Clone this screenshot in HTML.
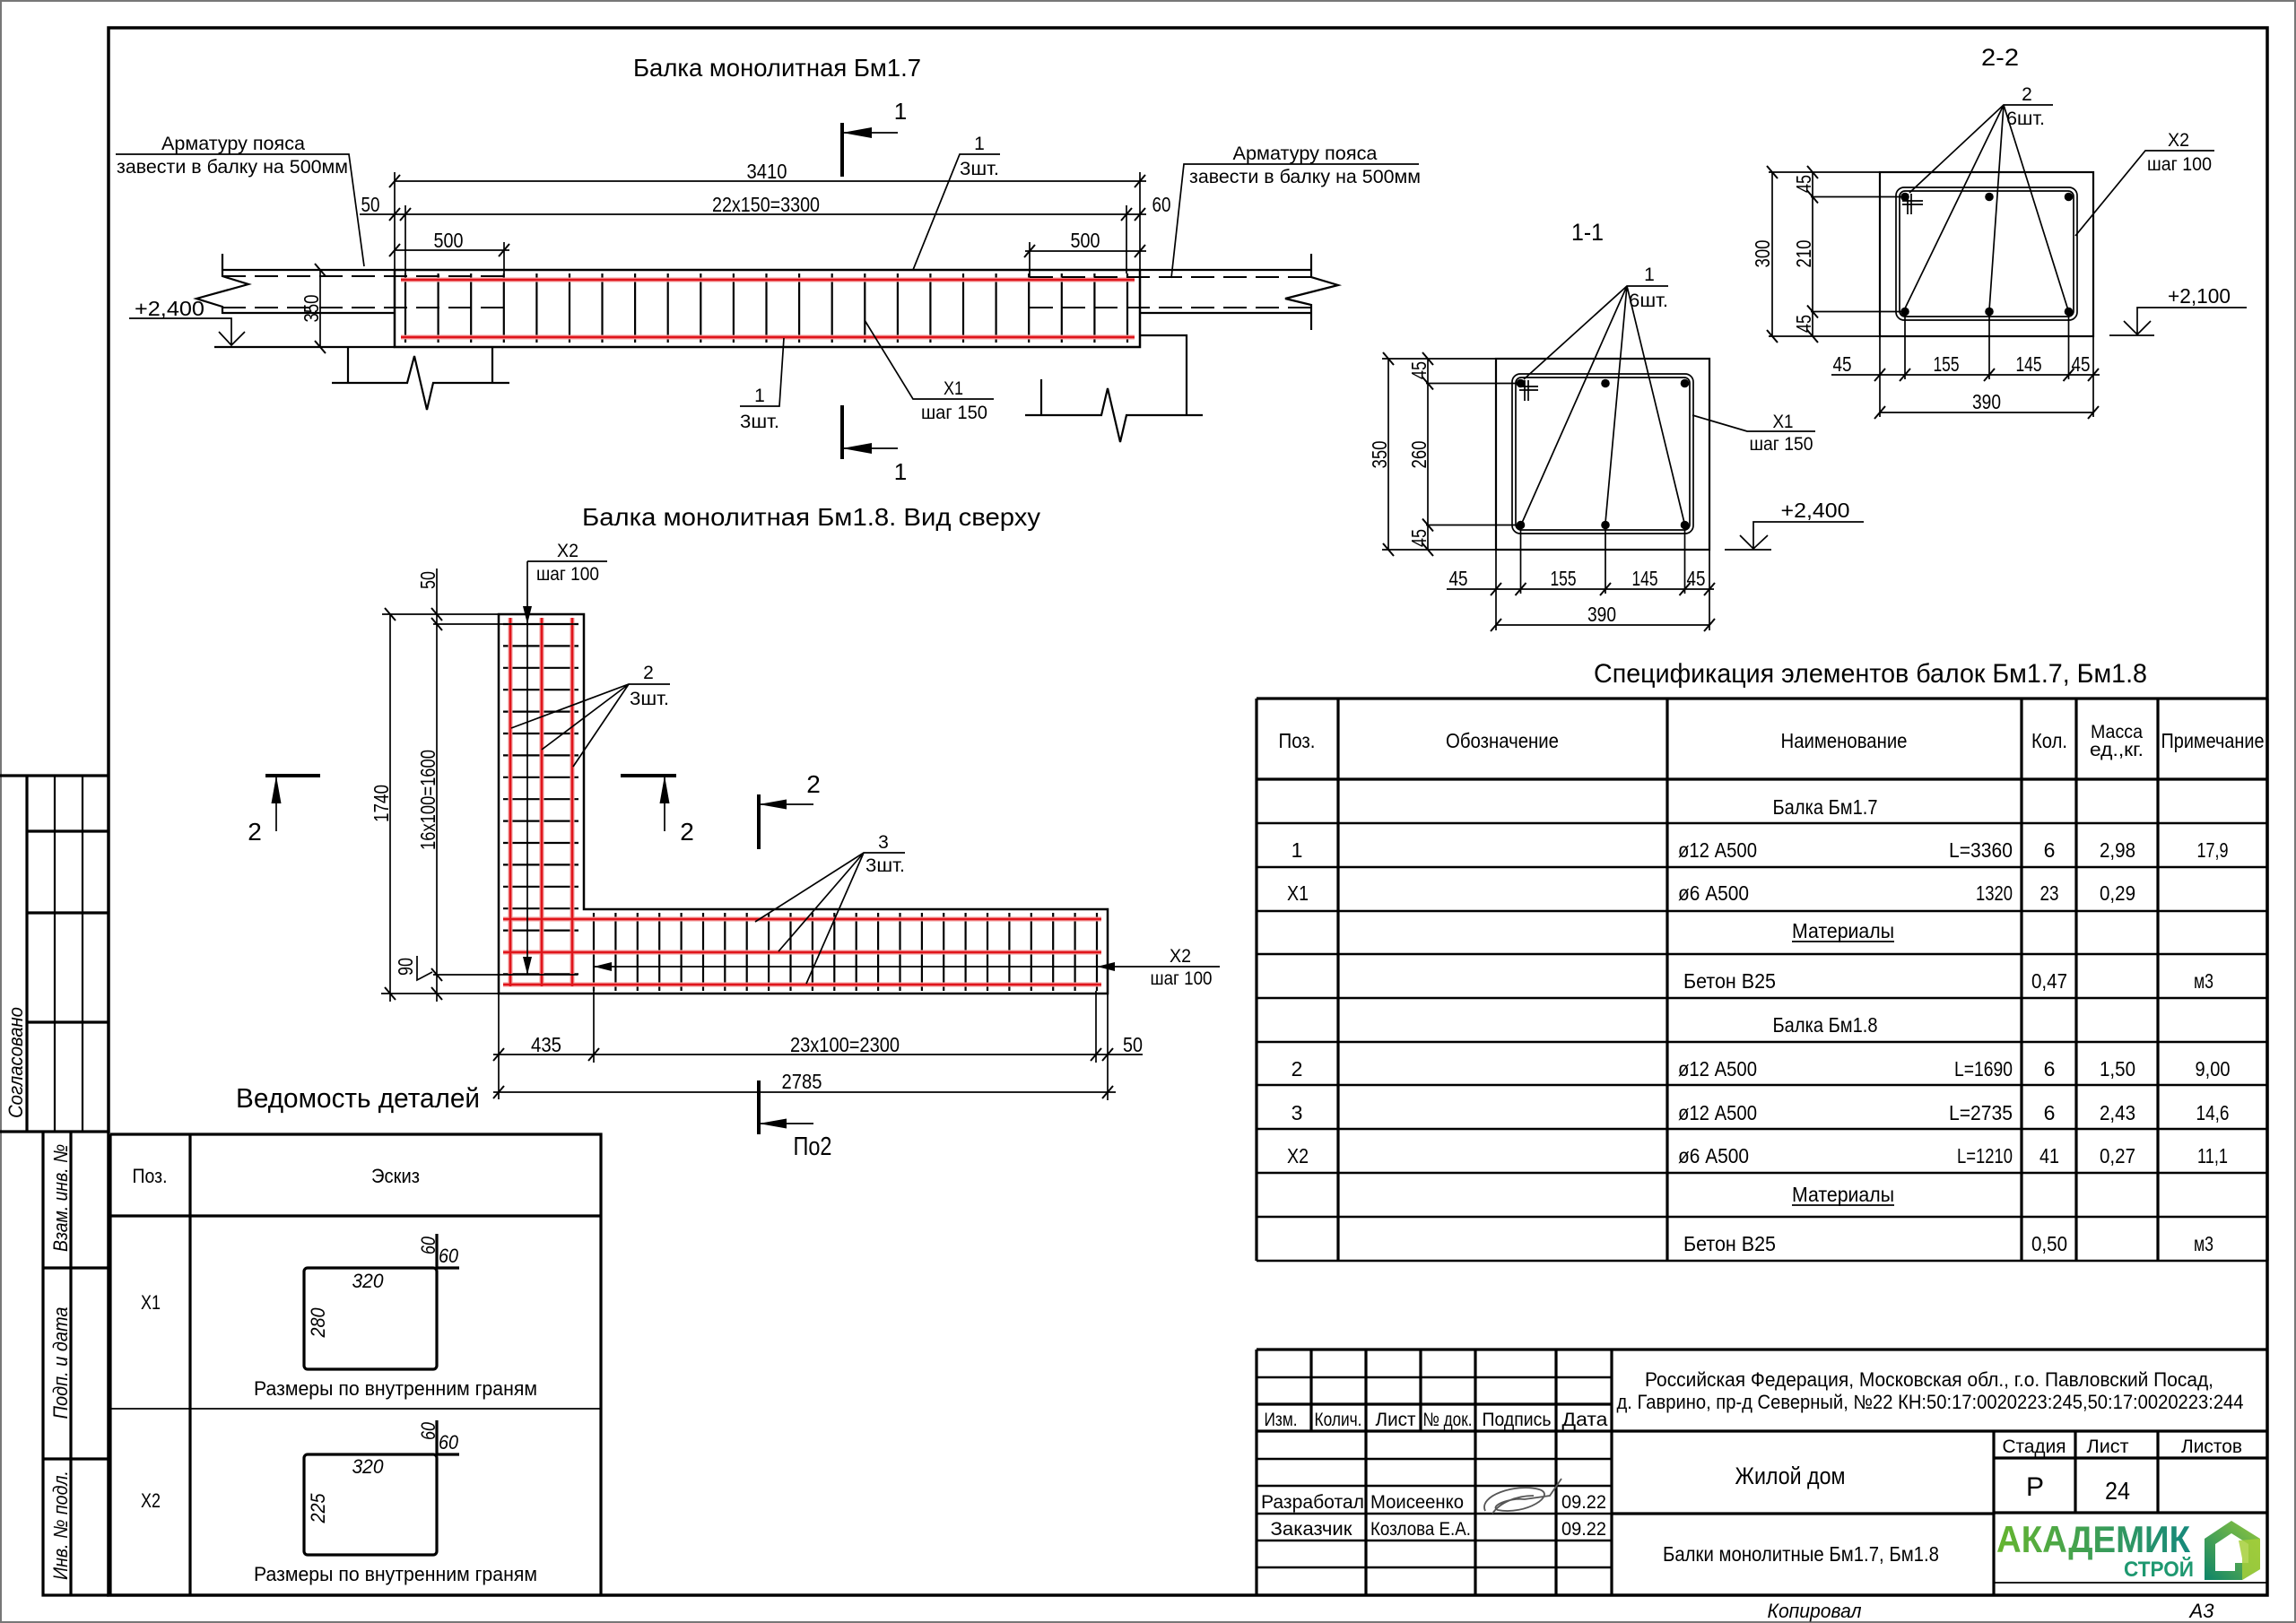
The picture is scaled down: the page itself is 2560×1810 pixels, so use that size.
<!DOCTYPE html>
<html><head><meta charset="utf-8"><style>
html,body{margin:0;padding:0;background:#fff}
svg{display:block}
text{font-family:"Liberation Sans","DejaVu Sans",sans-serif;fill:#000}
.l{stroke:#000;stroke-width:2.2;fill:none}
.d{stroke:#000;stroke-width:1.7;fill:none}
.k{stroke:#000;stroke-width:3.2;fill:none}
.m{stroke:#000;stroke-width:2.4;fill:none}
.r{stroke:#e0151b;stroke-width:2.6;fill:none}
.rh{stroke:#f29a9a;stroke-width:5;fill:none}
.ds{stroke:#000;stroke-width:2;fill:none;stroke-dasharray:26 10}
.i{font-style:italic}
.f{fill:#000;stroke:none}
</style></head><body>
<svg width="2560" height="1810" viewBox="0 0 2560 1810" xmlns="http://www.w3.org/2000/svg">
<defs>
<path id="th" d="M-6,7L6,-7" stroke="#000" stroke-width="2"/>
<path id="tv" d="M-6,-7L6,7" stroke="#000" stroke-width="2"/>
<linearGradient id="lg" x1="0" x2="1" y1="0" y2="0"><stop offset="0" stop-color="#66b52e"/><stop offset="1" stop-color="#15887c"/></linearGradient>
<linearGradient id="hg" x1="0" y1="1" x2="1" y2="0"><stop offset="0" stop-color="#0d8468"/><stop offset="1" stop-color="#94c83c"/></linearGradient>
</defs>

<!-- outer border and frame -->
<rect x="1" y="1" width="2558" height="1808" fill="none" stroke="#777" stroke-width="2"/>
<path d="M121,31H2528V1779H121Z" fill="none" stroke="#000" stroke-width="3.5"/>

<!-- left stamps -->
<path class="k" d="M0,865H121M0,1262H121M30,865V1262M30,927H121M30,1018H121M30,1140H121"/>
<path class="l" d="M61,865V1262M92,865V1262"/>
<path class="k" d="M48,1262V1779H121M79,1262V1779M48,1414H121M48,1627H121"/>
<text class="i" transform="translate(25,1185) rotate(-90)" text-anchor="middle" font-size="22" textLength="124" lengthAdjust="spacingAndGlyphs">Согласовано</text>
<text class="i" transform="translate(75,1336) rotate(-90)" text-anchor="middle" font-size="22" textLength="120" lengthAdjust="spacingAndGlyphs">Взам. инв. №</text>
<text class="i" transform="translate(75,1520) rotate(-90)" text-anchor="middle" font-size="22" textLength="125" lengthAdjust="spacingAndGlyphs">Подп. и дата</text>
<text class="i" transform="translate(75,1701) rotate(-90)" text-anchor="middle" font-size="22" textLength="122" lengthAdjust="spacingAndGlyphs">Инв. № подл.</text>

<!-- ============ Beam Bm1.7 ============ -->
<text x="706" y="85" font-size="28" textLength="321" lengthAdjust="spacingAndGlyphs">Балка монолитная Бм1.7</text>

<path class="d" d="M129,172H389L406,297"/>
<text x="260" y="167" text-anchor="middle" font-size="21" textLength="160" lengthAdjust="spacingAndGlyphs">Арматуру пояса</text>
<text x="259" y="193" text-anchor="middle" font-size="21" textLength="258" lengthAdjust="spacingAndGlyphs">завести в балку на 500мм</text>
<path class="d" d="M1582,183H1320L1306,310"/>
<text x="1455" y="178" text-anchor="middle" font-size="21" textLength="161" lengthAdjust="spacingAndGlyphs">Арматуру пояса</text>
<text x="1455" y="204" text-anchor="middle" font-size="21" textLength="258" lengthAdjust="spacingAndGlyphs">завести в балку на 500мм</text>

<!-- dims -->
<path class="d" d="M440,202H1278M401,239H1278M440,279H568M1143,280H1278"/>
<path class="d" d="M440,192V301M1271,192V301M452,229V305M1256,229V305M562,270V305M1148,270V309"/>
<use href="#th" x="440" y="202"/><use href="#th" x="1271" y="202"/>
<use href="#th" x="440" y="239"/><use href="#th" x="452" y="239"/><use href="#th" x="1256" y="239"/><use href="#th" x="1271" y="239"/>
<use href="#th" x="440" y="279"/><use href="#th" x="562" y="279"/><use href="#th" x="1148" y="280"/><use href="#th" x="1271" y="280"/>
<text x="855" y="199" text-anchor="middle" font-size="23" textLength="45" lengthAdjust="spacingAndGlyphs">3410</text>
<text x="854" y="236" text-anchor="middle" font-size="23" textLength="120" lengthAdjust="spacingAndGlyphs">22x150=3300</text>
<text x="413" y="236" text-anchor="middle" font-size="23" textLength="21" lengthAdjust="spacingAndGlyphs">50</text>
<text x="1295" y="236" text-anchor="middle" font-size="23" textLength="21" lengthAdjust="spacingAndGlyphs">60</text>
<text x="500" y="276" text-anchor="middle" font-size="23" textLength="33" lengthAdjust="spacingAndGlyphs">500</text>
<text x="1210" y="276" text-anchor="middle" font-size="23" textLength="33" lengthAdjust="spacingAndGlyphs">500</text>

<!-- beam body -->
<rect x="440" y="301" width="831" height="86" fill="none" stroke="#000" stroke-width="2.5"/>
<path class="l" d="M452,305V382M488.6,305V382M525.2,305V382M561.8,305V382M598.4,305V382M635,305V382M671.5,305V382M708.1,305V382M744.7,305V382M781.3,305V382M817.9,305V382M854.5,305V382M891.1,305V382M927.7,305V382M964.3,305V382M1000.9,305V382M1037.4,305V382M1074,305V382M1110.6,305V382M1147.2,305V382M1183.8,305V382M1220.4,305V382M1257,305V382"/>
<path class="rh" d="M447,312H1265M447,376H1265"/>
<path class="r" d="M447,312H1265M447,376H1265"/>

<!-- belts -->
<path class="l" d="M248,301H440M248,349H440M239,387H440"/>
<path class="ds" d="M248,308H562M248,343H562"/>
<path class="l" d="M248,283V308L277,317L219,333L248,342V350"/>
<path class="l" d="M1271,301H1462M1271,349H1462"/>
<path class="ds" d="M1148,309H1462M1148,343H1462"/>
<path class="l" d="M1462,283V309L1492,318L1433,333L1462,340V368"/>

<!-- level -->
<path class="d" d="M144,355H258V385M244,370L258,385L273,370"/>
<text x="189" y="352" text-anchor="middle" font-size="23" textLength="78" lengthAdjust="spacingAndGlyphs">+2,400</text>
<path class="d" d="M357,301V387"/>
<use href="#tv" x="357" y="301"/><use href="#tv" x="357" y="387"/>
<text transform="translate(355,344) rotate(-90)" text-anchor="middle" font-size="23" textLength="31" lengthAdjust="spacingAndGlyphs">350</text>

<!-- supports -->
<path class="l" d="M370,427H454L462,397L476,457L483,427H568M388,387V427M549,387V427"/>
<path class="l" d="M1271,374H1323V463M1143,463H1228L1235,433L1249,493L1256,463H1341M1161,423V463"/>

<!-- leaders -->
<path class="d" d="M874,377L869,453H825"/>
<text x="847" y="448" text-anchor="middle" font-size="21">1</text>
<text x="847" y="477" text-anchor="middle" font-size="21" textLength="44" lengthAdjust="spacingAndGlyphs">3шт.</text>
<path class="d" d="M1018,301L1070,172H1115"/>
<text x="1092" y="167" text-anchor="middle" font-size="21">1</text>
<text x="1092" y="195" text-anchor="middle" font-size="21" textLength="44" lengthAdjust="spacingAndGlyphs">3шт.</text>
<path class="d" d="M964,357L1018,445H1108"/>
<text x="1063" y="440" text-anchor="middle" font-size="21" textLength="22" lengthAdjust="spacingAndGlyphs">X1</text>
<text x="1064" y="467" text-anchor="middle" font-size="21" textLength="74" lengthAdjust="spacingAndGlyphs">шаг 150</text>

<!-- section marks 1 -->
<path d="M939,137V197M939,452V512" stroke="#000" stroke-width="4"/>
<path class="d" d="M939,148H1001M939,500H1001"/>
<polygon class="f" points="939,148 972,142 972,154"/>
<polygon class="f" points="939,500 972,494 972,506"/>
<text x="1004" y="133" text-anchor="middle" font-size="26">1</text>
<text x="1004" y="535" text-anchor="middle" font-size="26">1</text>

<!-- ============ Section 1-1 ============ -->
<text x="1770" y="268" text-anchor="middle" font-size="27" textLength="36" lengthAdjust="spacingAndGlyphs">1-1</text>
<path class="d" d="M1860,319H1814L1699,423M1814,319L1697,583M1814,319L1790,583M1814,319L1878,583"/>
<text x="1839" y="313" text-anchor="middle" font-size="21">1</text>
<text x="1816" y="342" font-size="21" textLength="44" lengthAdjust="spacingAndGlyphs">6шт.</text>
<rect x="1668" y="400" width="238" height="213" class="l"/>
<rect x="1686" y="417" width="202" height="178" rx="9" class="d"/>
<rect x="1690" y="421" width="194" height="170" rx="6" class="d"/>
<g class="f"><circle cx="1695.5" cy="427.5" r="4.8"/><circle cx="1790" cy="427.5" r="4.8"/><circle cx="1878.5" cy="427.5" r="4.8"/><circle cx="1695.5" cy="585.5" r="4.8"/><circle cx="1790" cy="585.5" r="4.8"/><circle cx="1878.5" cy="585.5" r="4.8"/></g>
<path class="d" d="M1700,424V447M1704,424V447M1694,431H1715M1694,435H1715"/>
<path class="d" d="M1541,400H1668M1541,613H1668M1548,400V613M1592,400V613M1590,427.5H1695M1590,585.5H1695"/>
<use href="#tv" x="1548" y="400"/><use href="#tv" x="1548" y="613"/><use href="#tv" x="1592" y="400"/><use href="#tv" x="1592" y="427.5"/><use href="#tv" x="1592" y="585.5"/><use href="#tv" x="1592" y="613"/>
<text transform="translate(1546,507) rotate(-90)" text-anchor="middle" font-size="23" textLength="31" lengthAdjust="spacingAndGlyphs">350</text>
<text transform="translate(1590,507) rotate(-90)" text-anchor="middle" font-size="23" textLength="31" lengthAdjust="spacingAndGlyphs">260</text>
<text transform="translate(1590,413) rotate(-90)" text-anchor="middle" font-size="23" textLength="20" lengthAdjust="spacingAndGlyphs">45</text>
<text transform="translate(1590,600) rotate(-90)" text-anchor="middle" font-size="23" textLength="20" lengthAdjust="spacingAndGlyphs">45</text>
<path class="d" d="M1613,657H1911M1668,697H1906M1695.5,585V662M1790,585V662M1878.5,585V662M1668,613V703M1906,613V703"/>
<use href="#th" x="1668" y="657"/><use href="#th" x="1695.5" y="657"/><use href="#th" x="1790" y="657"/><use href="#th" x="1878.5" y="657"/><use href="#th" x="1906" y="657"/><use href="#th" x="1668" y="697"/><use href="#th" x="1906" y="697"/>
<text x="1626" y="653" text-anchor="middle" font-size="23" textLength="21" lengthAdjust="spacingAndGlyphs">45</text>
<text x="1743" y="653" text-anchor="middle" font-size="23" textLength="29" lengthAdjust="spacingAndGlyphs">155</text>
<text x="1834" y="653" text-anchor="middle" font-size="23" textLength="29" lengthAdjust="spacingAndGlyphs">145</text>
<text x="1891" y="653" text-anchor="middle" font-size="23" textLength="21" lengthAdjust="spacingAndGlyphs">45</text>
<text x="1786" y="693" text-anchor="middle" font-size="23" textLength="32" lengthAdjust="spacingAndGlyphs">390</text>
<path class="d" d="M1887,463L1948,481H2024"/>
<text x="1988" y="477" text-anchor="middle" font-size="21" textLength="23" lengthAdjust="spacingAndGlyphs">X1</text>
<text x="1986" y="502" text-anchor="middle" font-size="21" textLength="71" lengthAdjust="spacingAndGlyphs">шаг 150</text>
<path class="d" d="M2078,582H1955V612M1940,597L1955,612L1971,597M1923,613H1975"/>
<text x="2024" y="577" text-anchor="middle" font-size="23" textLength="77" lengthAdjust="spacingAndGlyphs">+2,400</text>

<!-- ============ Section 2-2 ============ -->
<text x="2230" y="73" text-anchor="middle" font-size="27" textLength="42" lengthAdjust="spacingAndGlyphs">2-2</text>
<path class="d" d="M2289,117H2234L2129,215M2234,117L2123,346M2234,117L2218,346M2234,117L2306,346"/>
<text x="2260" y="112" text-anchor="middle" font-size="21">2</text>
<text x="2237" y="139" font-size="21" textLength="43" lengthAdjust="spacingAndGlyphs">6шт.</text>
<rect x="2096" y="192" width="238" height="183" class="l"/>
<rect x="2114" y="209" width="202" height="148" rx="9" class="d"/>
<rect x="2118" y="213" width="194" height="140" rx="6" class="d"/>
<g class="f"><circle cx="2124" cy="219.5" r="4.8"/><circle cx="2218" cy="219.5" r="4.8"/><circle cx="2306.5" cy="219.5" r="4.8"/><circle cx="2124" cy="347.5" r="4.8"/><circle cx="2218" cy="347.5" r="4.8"/><circle cx="2306.5" cy="347.5" r="4.8"/></g>
<path class="d" d="M2127,216V239M2131,216V239M2121,224H2144M2121,228H2144"/>
<path class="d" d="M1972,192H2096M1972,375H2096M1976,192V375M2021,192V375M2019,219.5H2124M2019,347.5H2124"/>
<use href="#tv" x="1976" y="192"/><use href="#tv" x="1976" y="375"/><use href="#tv" x="2021" y="192"/><use href="#tv" x="2021" y="219.5"/><use href="#tv" x="2021" y="347.5"/><use href="#tv" x="2021" y="375"/>
<text transform="translate(1973,283) rotate(-90)" text-anchor="middle" font-size="23" textLength="31" lengthAdjust="spacingAndGlyphs">300</text>
<text transform="translate(2019,283) rotate(-90)" text-anchor="middle" font-size="23" textLength="31" lengthAdjust="spacingAndGlyphs">210</text>
<text transform="translate(2019,205) rotate(-90)" text-anchor="middle" font-size="23" textLength="20" lengthAdjust="spacingAndGlyphs">45</text>
<text transform="translate(2019,361) rotate(-90)" text-anchor="middle" font-size="23" textLength="20" lengthAdjust="spacingAndGlyphs">45</text>
<path class="d" d="M2042,418H2341M2096,460H2334M2124,347V423M2218,347V423M2306.5,347V423M2096,375V465M2334,375V465"/>
<use href="#th" x="2096" y="418"/><use href="#th" x="2124" y="418"/><use href="#th" x="2218" y="418"/><use href="#th" x="2306.5" y="418"/><use href="#th" x="2334" y="418"/><use href="#th" x="2096" y="460"/><use href="#th" x="2334" y="460"/>
<text x="2054" y="414" text-anchor="middle" font-size="23" textLength="21" lengthAdjust="spacingAndGlyphs">45</text>
<text x="2170" y="414" text-anchor="middle" font-size="23" textLength="29" lengthAdjust="spacingAndGlyphs">155</text>
<text x="2262" y="414" text-anchor="middle" font-size="23" textLength="29" lengthAdjust="spacingAndGlyphs">145</text>
<text x="2320" y="414" text-anchor="middle" font-size="23" textLength="21" lengthAdjust="spacingAndGlyphs">45</text>
<text x="2215" y="456" text-anchor="middle" font-size="23" textLength="32" lengthAdjust="spacingAndGlyphs">390</text>
<path class="d" d="M2314,263L2392,168H2469"/>
<text x="2429" y="163" text-anchor="middle" font-size="21" textLength="24" lengthAdjust="spacingAndGlyphs">X2</text>
<text x="2430" y="190" text-anchor="middle" font-size="21" textLength="72" lengthAdjust="spacingAndGlyphs">шаг 100</text>
<path class="d" d="M2505,343H2383V373M2368,358L2383,373L2398,358M2352,374H2402"/>
<text x="2452" y="338" text-anchor="middle" font-size="23" textLength="70" lengthAdjust="spacingAndGlyphs">+2,100</text>

<!-- ============ Plan Bm1.8 ============ -->
<text x="649" y="586" font-size="28" textLength="511" lengthAdjust="spacingAndGlyphs">Балка монолитная Бм1.8. Вид сверху</text>
<path class="d" d="M426,685H556"/>
<path class="l" d="M561,696H645M561,720.4H645M561,744.8H645M561,769.2H645M561,793.6H645M561,818H645M561,842.4H645M561,866.8H645M561,891.2H645M561,915.6H645M561,940H645M561,964.4H645M561,988.8H645M561,1013.2H645M561,1037.6H645M561,1062H645M561,1086.4H645"/>
<path class="l" d="M662,1018V1105M686.4,1018V1105M710.8,1018V1105M735.2,1018V1105M759.6,1018V1105M784,1018V1105M808.3,1018V1105M832.7,1018V1105M857.1,1018V1105M881.5,1018V1105M905.9,1018V1105M930.3,1018V1105M954.7,1018V1105M979.1,1018V1105M1003.5,1018V1105M1027.9,1018V1105M1052.2,1018V1105M1076.6,1018V1105M1101,1018V1105M1125.4,1018V1105M1149.8,1018V1105M1174.2,1018V1105M1198.6,1018V1105M1223,1018V1105"/>
<path class="rh" d="M569,689V1100M604,689V1100M638,689V1100M561,1025H1228M561,1062H1228M561,1098H1228"/>
<path class="r" d="M569,689V1100M604,689V1100M638,689V1100M561,1025H1228M561,1062H1228M561,1098H1228"/>
<path d="M556,685H651V1014H1235V1108H556Z" fill="none" stroke="#000" stroke-width="2.5"/>

<!-- X2 arrows -->
<path class="d" d="M588,626H677M588,626V1087M662,1078H1360"/>
<polygon class="f" points="588,696 583,676 593,676"/>
<polygon class="f" points="588,1087 583,1067 593,1067"/>
<polygon class="f" points="662,1078 682,1073 682,1083"/>
<polygon class="f" points="1223,1078 1243,1073 1243,1083"/>
<text x="633" y="621" text-anchor="middle" font-size="21" textLength="24" lengthAdjust="spacingAndGlyphs">X2</text>
<text x="633" y="647" text-anchor="middle" font-size="21" textLength="70" lengthAdjust="spacingAndGlyphs">шаг 100</text>
<text x="1316" y="1073" text-anchor="middle" font-size="21" textLength="24" lengthAdjust="spacingAndGlyphs">X2</text>
<text x="1317" y="1098" text-anchor="middle" font-size="21" textLength="69" lengthAdjust="spacingAndGlyphs">шаг 100</text>

<!-- leaders plan -->
<path class="d" d="M747,763H701L570,812M701,763L604,836M701,763L639,855"/>
<text x="723" y="757" text-anchor="middle" font-size="21">2</text>
<text x="702" y="786" font-size="21" textLength="44" lengthAdjust="spacingAndGlyphs">3шт.</text>
<path class="d" d="M1009,951H963L842,1028M963,951L868,1061M963,951L899,1097"/>
<text x="985" y="946" text-anchor="middle" font-size="21">3</text>
<text x="965" y="972" font-size="21" textLength="44" lengthAdjust="spacingAndGlyphs">3шт.</text>

<!-- plan dims left -->
<path class="d" d="M435,685V1117M487,634V1117M483,696H644M483,1087H644M425,1108H556"/>
<use href="#tv" x="435" y="685"/><use href="#tv" x="435" y="1108"/><use href="#tv" x="487" y="685"/><use href="#tv" x="487" y="696"/><use href="#tv" x="487" y="1087"/><use href="#tv" x="487" y="1108"/>
<text transform="translate(433,896) rotate(-90)" text-anchor="middle" font-size="23" textLength="42" lengthAdjust="spacingAndGlyphs">1740</text>
<text transform="translate(485,892) rotate(-90)" text-anchor="middle" font-size="23" textLength="112" lengthAdjust="spacingAndGlyphs">16x100=1600</text>
<text transform="translate(485,647) rotate(-90)" text-anchor="middle" font-size="23" textLength="20" lengthAdjust="spacingAndGlyphs">50</text>
<text transform="translate(460,1078) rotate(-90)" text-anchor="middle" font-size="23" textLength="20" lengthAdjust="spacingAndGlyphs">90</text>
<path class="d" d="M465,1066V1093L482,1084"/>

<!-- plan dims bottom -->
<path class="d" d="M550,1176H1274M550,1218H1244M556,1108V1226M662,1105V1185M1222,1105V1185M1235,1108V1227"/>
<use href="#th" x="556" y="1176"/><use href="#th" x="662" y="1176"/><use href="#th" x="1222" y="1176"/><use href="#th" x="1235" y="1176"/><use href="#th" x="556" y="1218"/><use href="#th" x="1235" y="1218"/>
<text x="609" y="1173" text-anchor="middle" font-size="23" textLength="34" lengthAdjust="spacingAndGlyphs">435</text>
<text x="942" y="1173" text-anchor="middle" font-size="23" textLength="122" lengthAdjust="spacingAndGlyphs">23x100=2300</text>
<text x="1263" y="1173" text-anchor="middle" font-size="23" textLength="22" lengthAdjust="spacingAndGlyphs">50</text>
<text x="894" y="1214" text-anchor="middle" font-size="23" textLength="45" lengthAdjust="spacingAndGlyphs">2785</text>

<!-- section marks 2 -->
<path d="M296,865H357M692,865H754M846,886V947M846,1205V1265" stroke="#000" stroke-width="4"/>
<path class="d" d="M308,865V927M741,865V927M846,897H907M846,1253H907"/>
<polygon class="f" points="308,865 302.5,896 313.5,896"/>
<polygon class="f" points="741,865 735.5,896 746.5,896"/>
<polygon class="f" points="846,897 877,891.5 877,902.5"/>
<polygon class="f" points="846,1253 877,1247.5 877,1258.5"/>
<text x="284" y="937" text-anchor="middle" font-size="28">2</text>
<text x="766" y="937" text-anchor="middle" font-size="28">2</text>
<text x="907" y="884" text-anchor="middle" font-size="28">2</text>
<text x="906" y="1288" text-anchor="middle" font-size="29" textLength="43" lengthAdjust="spacingAndGlyphs">По2</text>

<!-- ============ Details table ============ -->
<text x="263" y="1235" font-size="31" textLength="272" lengthAdjust="spacingAndGlyphs">Ведомость деталей</text>
<path class="k" d="M123,1265H670V1779M123,1265V1779M212,1265V1779M123,1356H670"/>
<path class="d" d="M123,1571H670"/>
<text x="167" y="1319" text-anchor="middle" font-size="22" textLength="39" lengthAdjust="spacingAndGlyphs">Поз.</text>
<text x="441" y="1319" text-anchor="middle" font-size="22" textLength="54" lengthAdjust="spacingAndGlyphs">Эскиз</text>
<text x="168" y="1460" text-anchor="middle" font-size="22" textLength="22" lengthAdjust="spacingAndGlyphs">X1</text>
<text x="168" y="1681" text-anchor="middle" font-size="22" textLength="22" lengthAdjust="spacingAndGlyphs">X2</text>
<rect x="339" y="1414" width="148" height="113" rx="4" fill="none" stroke="#000" stroke-width="3.2"/>
<path class="k" d="M487,1414H512M487,1414V1376"/>
<text class="i" transform="translate(485,1389) rotate(-90)" text-anchor="middle" font-size="22" textLength="20" lengthAdjust="spacingAndGlyphs">60</text>
<text class="i" x="500" y="1408" text-anchor="middle" font-size="22" textLength="22" lengthAdjust="spacingAndGlyphs">60</text>
<text class="i" x="410" y="1436" text-anchor="middle" font-size="22" textLength="35" lengthAdjust="spacingAndGlyphs">320</text>
<text class="i" transform="translate(362,1475) rotate(-90)" text-anchor="middle" font-size="22" textLength="33" lengthAdjust="spacingAndGlyphs">280</text>
<text x="441" y="1556" text-anchor="middle" font-size="22" textLength="316" lengthAdjust="spacingAndGlyphs">Размеры по внутренним граням</text>
<rect x="339" y="1622" width="148" height="112" rx="4" fill="none" stroke="#000" stroke-width="3.2"/>
<path class="k" d="M487,1622H512M487,1622V1584"/>
<text class="i" transform="translate(485,1596) rotate(-90)" text-anchor="middle" font-size="22" textLength="20" lengthAdjust="spacingAndGlyphs">60</text>
<text class="i" x="500" y="1616" text-anchor="middle" font-size="22" textLength="22" lengthAdjust="spacingAndGlyphs">60</text>
<text class="i" x="410" y="1643" text-anchor="middle" font-size="22" textLength="35" lengthAdjust="spacingAndGlyphs">320</text>
<text class="i" transform="translate(362,1682) rotate(-90)" text-anchor="middle" font-size="22" textLength="33" lengthAdjust="spacingAndGlyphs">225</text>
<text x="441" y="1763" text-anchor="middle" font-size="22" textLength="316" lengthAdjust="spacingAndGlyphs">Размеры по внутренним граням</text>

<!-- ============ Spec table ============ -->
<text x="1777" y="761" font-size="30" textLength="617" lengthAdjust="spacingAndGlyphs">Спецификация элементов балок Бм1.7, Бм1.8</text>
<path class="k" d="M1401,779H2528M1401,869H2528M1401,779V1406M1492,779V1406M1859,779V1406M2254,779V1406M2315,779V1406M2406,779V1406M2528,779V1406"/>
<path class="m" d="M1401,918H2528M1401,967H2528M1401,1016H2528M1401,1064H2528M1401,1113H2528M1401,1162H2528M1401,1210H2528M1401,1259H2528M1401,1308H2528M1401,1357H2528M1401,1406H2528"/>
<g font-size="23">
<text x="1446" y="834" text-anchor="middle" textLength="41" lengthAdjust="spacingAndGlyphs">Поз.</text>
<text x="1675" y="834" text-anchor="middle" textLength="126" lengthAdjust="spacingAndGlyphs">Обозначение</text>
<text x="2056" y="834" text-anchor="middle" textLength="141" lengthAdjust="spacingAndGlyphs">Наименование</text>
<text x="2285" y="834" text-anchor="middle" textLength="40" lengthAdjust="spacingAndGlyphs">Кол.</text>
<text x="2360" y="823" text-anchor="middle" font-size="21" textLength="58" lengthAdjust="spacingAndGlyphs">Масса</text>
<text x="2360" y="843" text-anchor="middle" font-size="21" textLength="60" lengthAdjust="spacingAndGlyphs">ед.,кг.</text>
<text x="2467" y="834" text-anchor="middle" textLength="115" lengthAdjust="spacingAndGlyphs">Примечание</text>

<text x="2035" y="908" text-anchor="middle" textLength="117" lengthAdjust="spacingAndGlyphs">Балка Бм1.7</text>

<text x="1446" y="956" text-anchor="middle">1</text>
<text x="1871" y="956" textLength="88" lengthAdjust="spacingAndGlyphs">ø12 А500</text>
<text x="2244" y="956" text-anchor="end" textLength="71" lengthAdjust="spacingAndGlyphs">L=3360</text>
<text x="2285" y="956" text-anchor="middle">6</text>
<text x="2361" y="956" text-anchor="middle" textLength="40" lengthAdjust="spacingAndGlyphs">2,98</text>
<text x="2467" y="956" text-anchor="middle" textLength="35" lengthAdjust="spacingAndGlyphs">17,9</text>

<text x="1447" y="1004" text-anchor="middle" textLength="24" lengthAdjust="spacingAndGlyphs">X1</text>
<text x="1871" y="1004" textLength="79" lengthAdjust="spacingAndGlyphs">ø6 А500</text>
<text x="2244" y="1004" text-anchor="end" textLength="41" lengthAdjust="spacingAndGlyphs">1320</text>
<text x="2285" y="1004" text-anchor="middle" textLength="21" lengthAdjust="spacingAndGlyphs">23</text>
<text x="2361" y="1004" text-anchor="middle" textLength="40" lengthAdjust="spacingAndGlyphs">0,29</text>

<text x="2055" y="1046" text-anchor="middle" textLength="114" lengthAdjust="spacingAndGlyphs">Материалы</text>

<text x="1877" y="1102" textLength="103" lengthAdjust="spacingAndGlyphs">Бетон В25</text>
<text x="2285" y="1102" text-anchor="middle" textLength="40" lengthAdjust="spacingAndGlyphs">0,47</text>
<text x="2457" y="1102" text-anchor="middle" textLength="22" lengthAdjust="spacingAndGlyphs">м3</text>

<text x="2035" y="1151" text-anchor="middle" textLength="117" lengthAdjust="spacingAndGlyphs">Балка Бм1.8</text>

<text x="1446" y="1200" text-anchor="middle">2</text>
<text x="1871" y="1200" textLength="88" lengthAdjust="spacingAndGlyphs">ø12 А500</text>
<text x="2244" y="1200" text-anchor="end" textLength="65" lengthAdjust="spacingAndGlyphs">L=1690</text>
<text x="2285" y="1200" text-anchor="middle">6</text>
<text x="2361" y="1200" text-anchor="middle" textLength="40" lengthAdjust="spacingAndGlyphs">1,50</text>
<text x="2467" y="1200" text-anchor="middle" textLength="39" lengthAdjust="spacingAndGlyphs">9,00</text>

<text x="1446" y="1249" text-anchor="middle">3</text>
<text x="1871" y="1249" textLength="88" lengthAdjust="spacingAndGlyphs">ø12 А500</text>
<text x="2244" y="1249" text-anchor="end" textLength="71" lengthAdjust="spacingAndGlyphs">L=2735</text>
<text x="2285" y="1249" text-anchor="middle">6</text>
<text x="2361" y="1249" text-anchor="middle" textLength="40" lengthAdjust="spacingAndGlyphs">2,43</text>
<text x="2467" y="1249" text-anchor="middle" textLength="37" lengthAdjust="spacingAndGlyphs">14,6</text>

<text x="1447" y="1297" text-anchor="middle" textLength="24" lengthAdjust="spacingAndGlyphs">X2</text>
<text x="1871" y="1297" textLength="79" lengthAdjust="spacingAndGlyphs">ø6 А500</text>
<text x="2244" y="1297" text-anchor="end" textLength="62" lengthAdjust="spacingAndGlyphs">L=1210</text>
<text x="2285" y="1297" text-anchor="middle" textLength="22" lengthAdjust="spacingAndGlyphs">41</text>
<text x="2361" y="1297" text-anchor="middle" textLength="40" lengthAdjust="spacingAndGlyphs">0,27</text>
<text x="2467" y="1297" text-anchor="middle" textLength="34" lengthAdjust="spacingAndGlyphs">11,1</text>

<text x="2055" y="1340" text-anchor="middle" textLength="114" lengthAdjust="spacingAndGlyphs">Материалы</text>

<text x="1877" y="1395" textLength="103" lengthAdjust="spacingAndGlyphs">Бетон В25</text>
<text x="2285" y="1395" text-anchor="middle" textLength="40" lengthAdjust="spacingAndGlyphs">0,50</text>
<text x="2457" y="1395" text-anchor="middle" textLength="22" lengthAdjust="spacingAndGlyphs">м3</text>
</g>
<path class="d" d="M1998,1050H2112M1998,1344H2112"/>

<!-- ============ Title block ============ -->
<path class="k" d="M1401,1505H2528M1401,1505V1779M1401,1566H1797M1401,1596H2528M1462,1505V1596M1584,1505V1596M1523,1505V1779M1645,1505V1779M1735,1505V1779M1797,1505V1779M2223,1596V1779M1797,1688H2223M2223,1626H2528M2223,1687H2528M2314,1596V1687M2406,1596V1687"/>
<path class="m" d="M1401,1536H1797M1401,1627H1797M1401,1657H1797M1401,1688H1797M1401,1718H1797M1401,1748H1797"/>
<path class="d" d="M2223,1765H2528"/>
<g font-size="21">
<text x="1428" y="1590" text-anchor="middle" textLength="37" lengthAdjust="spacingAndGlyphs">Изм.</text>
<text x="1492" y="1590" text-anchor="middle" textLength="53" lengthAdjust="spacingAndGlyphs">Колич.</text>
<text x="1556" y="1590" text-anchor="middle" textLength="45" lengthAdjust="spacingAndGlyphs">Лист</text>
<text x="1614" y="1590" text-anchor="middle" textLength="55" lengthAdjust="spacingAndGlyphs">№ док.</text>
<text x="1691" y="1590" text-anchor="middle" textLength="77" lengthAdjust="spacingAndGlyphs">Подпись</text>
<text x="1767" y="1590" text-anchor="middle" textLength="51" lengthAdjust="spacingAndGlyphs">Дата</text>
<text x="1406" y="1682" textLength="115" lengthAdjust="spacingAndGlyphs">Разработал</text>
<text x="1528" y="1682" textLength="104" lengthAdjust="spacingAndGlyphs">Моисеенко</text>
<text x="1741" y="1682" textLength="50" lengthAdjust="spacingAndGlyphs">09.22</text>
<text x="1462" y="1712" text-anchor="middle" textLength="91" lengthAdjust="spacingAndGlyphs">Заказчик</text>
<text x="1528" y="1712" textLength="112" lengthAdjust="spacingAndGlyphs">Козлова Е.А.</text>
<text x="1741" y="1712" textLength="50" lengthAdjust="spacingAndGlyphs">09.22</text>
</g>
<path d="M1656,1685C1648,1668 1690,1654 1716,1661C1736,1667 1702,1690 1670,1684C1660,1680 1682,1670 1700,1672L1728,1668L1741,1649M1664,1688C1672,1676 1690,1668 1710,1668" fill="none" stroke="#555" stroke-width="1.8"/>
<text x="2151" y="1546" text-anchor="middle" font-size="22" textLength="634" lengthAdjust="spacingAndGlyphs">Российская Федерация, Московская обл., г.о. Павловский Посад,</text>
<text x="2152" y="1571" text-anchor="middle" font-size="22" textLength="699" lengthAdjust="spacingAndGlyphs">д. Гаврино, пр-д Северный, №22 КН:50:17:0020223:245,50:17:0020223:244</text>
<text x="1996" y="1655" text-anchor="middle" font-size="27" textLength="123" lengthAdjust="spacingAndGlyphs">Жилой дом</text>
<text x="2008" y="1741" text-anchor="middle" font-size="23" textLength="308" lengthAdjust="spacingAndGlyphs">Балки монолитные Бм1.7, Бм1.8</text>
<text x="2268" y="1620" text-anchor="middle" font-size="21" textLength="71" lengthAdjust="spacingAndGlyphs">Стадия</text>
<text x="2350" y="1620" text-anchor="middle" font-size="21" textLength="47" lengthAdjust="spacingAndGlyphs">Лист</text>
<text x="2466" y="1620" text-anchor="middle" font-size="21" textLength="68" lengthAdjust="spacingAndGlyphs">Листов</text>
<text x="2269" y="1668" text-anchor="middle" font-size="30">Р</text>
<text x="2361" y="1672" text-anchor="middle" font-size="28" textLength="28" lengthAdjust="spacingAndGlyphs">24</text>

<!-- logo -->
<text x="2226" y="1731" font-size="42" font-weight="bold" style="fill:url(#lg)" textLength="216" lengthAdjust="spacingAndGlyphs">АКАДЕМИК</text>
<text x="2407" y="1758" text-anchor="middle" font-size="24" font-weight="bold" style="fill:#1e9870" textLength="78" lengthAdjust="spacingAndGlyphs">СТРОЙ</text>
<path d="M2458,1762V1716L2488,1696L2520,1716V1750L2500,1762Z" style="fill:url(#hg)"/>
<path d="M2470,1752V1722L2488,1710L2507,1722V1743H2492V1752Z" fill="#fff"/>
<path d="M2496,1718L2520,1716V1750L2500,1762V1738Z" style="fill:#a6cf3a;opacity:0.85"/>

<text class="i" x="2023" y="1804" text-anchor="middle" font-size="22" textLength="105" lengthAdjust="spacingAndGlyphs">Копировал</text>
<text class="i" x="2455" y="1804" text-anchor="middle" font-size="22" textLength="27" lengthAdjust="spacingAndGlyphs">А3</text>
</svg>
</body></html>
